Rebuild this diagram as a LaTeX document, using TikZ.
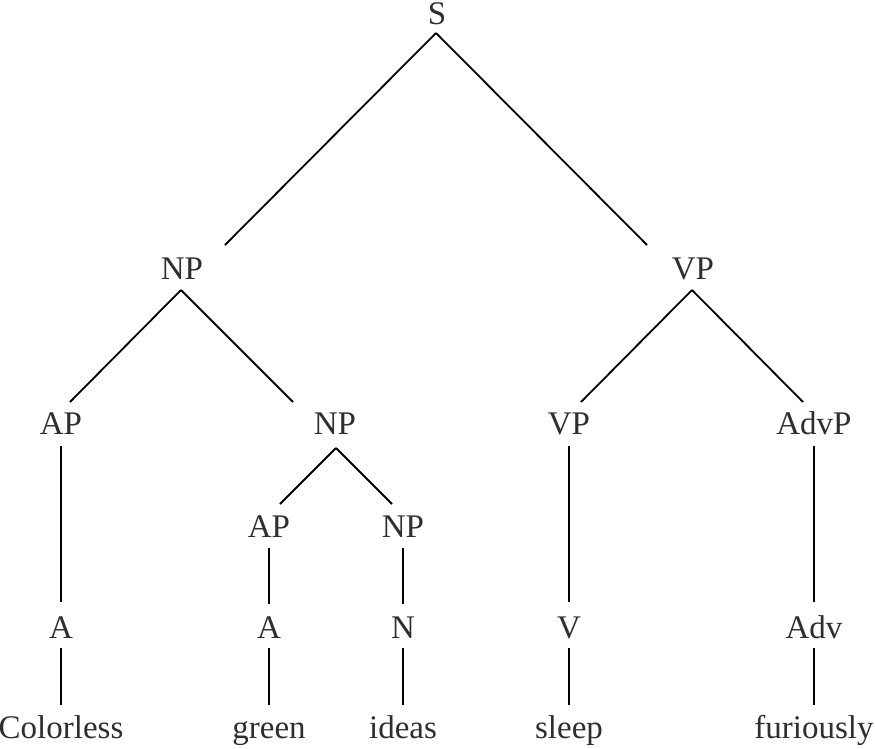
\documentclass[tikz,border=0pt]{standalone}
\usepackage{fontspec}
\setmainfont{Liberation Serif}
\definecolor{txt}{gray}{0.18}
\begin{document}
\begin{tikzpicture}[x=1pt,y=-1pt,
  lbl/.style={inner sep=0pt, anchor=base, text=txt, font=\fontsize{33}{33}\selectfont},
  edge/.style={draw=black, line width=1.8pt}]
\useasboundingbox (0,0) rectangle (875,748);
% level 0
\node[lbl] (S) at (437,24) {S};
% level 1
\node[lbl] (NPa) at (182,279) {NP};
\node[lbl] (VPa) at (693,279) {VP};
% level 2
\node[lbl] (APa) at (61,434) {AP};
\node[lbl] (NPb) at (335,434) {NP};
\node[lbl] (VPb) at (569,434) {VP};
\node[lbl] (AdvP) at (814,434) {AdvP};
% level 3
\node[lbl] (APb) at (269,537) {AP};
\node[lbl] (NPc) at (403,537) {NP};
% level 4
\node[lbl] (Aa) at (61,638) {A};
\node[lbl] (Ab) at (269,638) {A};
\node[lbl] (N) at (403,638) {N};
\node[lbl] (V) at (569,638) {V};
\node[lbl] (Adv) at (814,638) {Adv};
% level 5
\node[lbl] (w1) at (61,738) {Colorless};
\node[lbl] (w2) at (269,738) {green};
\node[lbl] (w3) at (403,738) {ideas};
\node[lbl] (w4) at (569,738) {sleep};
\node[lbl] (w5) at (814,738) {furiously};
% edges
\draw[edge] ([shift={(-1,9)}]S.base) -- ([shift={(43,-34)}]NPa.base);
\draw[edge] ([shift={(-1,9)}]S.base) -- ([shift={(-46,-34)}]VPa.base);
\draw[edge] ([shift={(-1,11)}]NPa.base) -- ([shift={(9,-32)}]APa.base);
\draw[edge] ([shift={(-1,11)}]NPa.base) -- ([shift={(-42,-32)}]NPb.base);
\draw[edge] ([shift={(-1,11)}]VPa.base) -- ([shift={(12,-32)}]VPb.base);
\draw[edge] ([shift={(-1,11)}]VPa.base) -- ([shift={(-11,-32)}]AdvP.base);
\draw[edge] ([shift={(1,14)}]NPb.base) -- ([shift={(11,-33)}]APb.base);
\draw[edge] ([shift={(1,14)}]NPb.base) -- ([shift={(-11,-33)}]NPc.base);
\draw[edge] ([shift={(0,12)}]APa.base) -- ([shift={(0,-36)}]Aa.base);
\draw[edge] ([shift={(0,12)}]VPb.base) -- ([shift={(0,-36)}]V.base);
\draw[edge] ([shift={(0,12)}]AdvP.base) -- ([shift={(0,-36)}]Adv.base);
\draw[edge] ([shift={(0,11)}]APb.base) -- ([shift={(0,-34)}]Ab.base);
\draw[edge] ([shift={(0,11)}]NPc.base) -- ([shift={(0,-34)}]N.base);
\draw[edge] ([shift={(0,10)}]Aa.base) -- ([shift={(0,-33)}]w1.base);
\draw[edge] ([shift={(0,10)}]Ab.base) -- ([shift={(0,-33)}]w2.base);
\draw[edge] ([shift={(0,10)}]N.base) -- ([shift={(0,-33)}]w3.base);
\draw[edge] ([shift={(0,10)}]V.base) -- ([shift={(0,-33)}]w4.base);
\draw[edge] ([shift={(0,10)}]Adv.base) -- ([shift={(0,-33)}]w5.base);
\end{tikzpicture}
\end{document}
